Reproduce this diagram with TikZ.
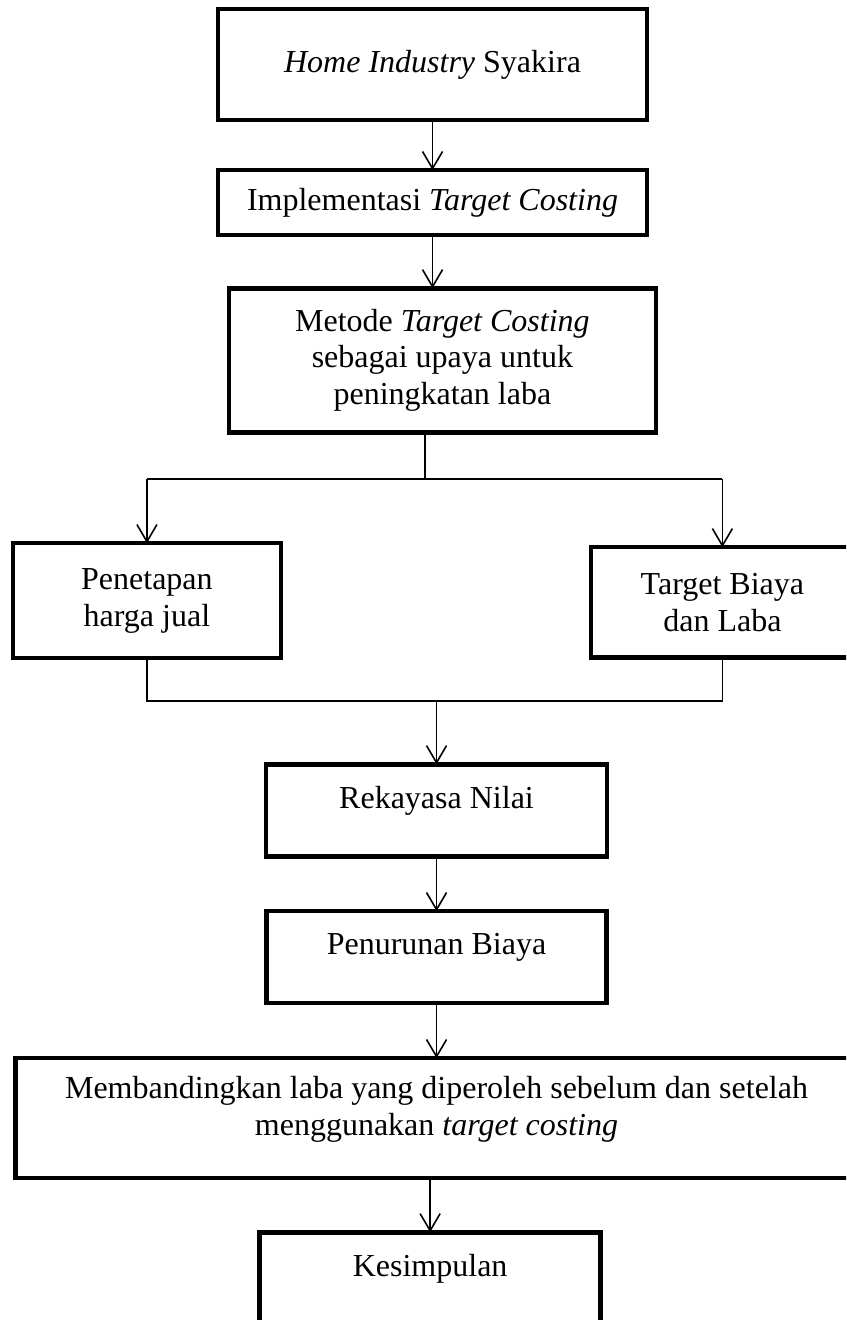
\documentclass[tikz,border=0pt]{standalone}
\usepackage{fontspec}
\setmainfont{Liberation Serif}
\usepackage{tikz}
\usetikzlibrary{arrows.meta,positioning}

\begin{document}
\begin{tikzpicture}[
      node distance=20pt,
      box/.style={rectangle, draw, line width=1.7pt, inner sep=0pt, outer sep=0pt, align=center, font=\fontsize{12}{13.8}\selectfont},
      toptext/.style={text depth=10pt},
      arrow/.style={-{Straight Barb[length=6.4pt,width=7.5pt]}, line width=0.6pt},
      line/.style={line width=0.6pt}
    ]
    \useasboundingbox (-162.2pt,24.2pt) rectangle (155.1pt,-470.8pt);
    \clip (-162.2pt,24.2pt) rectangle (155.1pt,-470.8pt);

    % Main column
    \node[box, minimum width=160.9pt, minimum height=41.6pt] (home) {\textit{Home Industry} Syakira};
    \node[box, minimum width=160.9pt, minimum height=24.4pt, below=18.8pt of home] (impl) {Implementasi \textit{Target Costing}};
    \node[box, minimum width=160.1pt, minimum height=54pt, below=19.9pt of impl, xshift=3.7pt] (metode) {Metode \textit{Target Costing}\\sebagai upaya untuk\\peningkatan laba};

    % Two branches
    \node[box, minimum width=100.5pt, minimum height=43.1pt, below=41.6pt of metode, xshift=-110.8pt] (penetapan) {Penetapan\\harga jual};
    \node[box, minimum width=98.6pt, minimum height=41.3pt, below=43.1pt of metode, xshift=105pt] (target) {Target Biaya\\dan Laba};

    \node[box, toptext, minimum width=127.9pt, minimum height=34.5pt, below=124.5pt of metode, xshift=-2.2pt] (rekayasa) {Rekayasa Nilai};
    \node[box, toptext, minimum width=127.5pt, minimum height=34.5pt, below=20.6pt of rekayasa] (penurunan) {Penurunan Biaya};
    \node[box, text depth=9pt, minimum width=315.8pt, minimum height=45pt, below=20.6pt of penurunan] (banding) {Membandingkan laba yang diperoleh sebelum dan setelah\\menggunakan \textit{target costing}};
    \node[box, toptext, minimum width=127.9pt, minimum height=34.9pt, below=20.3pt of banding, xshift=-2.4pt] (kesimpulan) {Kesimpulan};

    % Fork and join points
    \coordinate[below=17.6pt of metode.south, xshift=-6.5pt] (fork);
    \coordinate[below=16.1pt of penetapan.south] (join);

    % Connectors
    \draw[arrow] (home) -- (impl);
    \draw[arrow] (impl) -- (impl |- metode.north);
    \draw[line] (fork |- metode.south) -- (fork);
    \draw[line] (fork -| penetapan) -- (fork -| target);
    \draw[arrow] (fork -| penetapan) -- (penetapan);
    \draw[arrow] (fork -| target) -- (target);
    \draw[line] (penetapan) -- (join) -- (join -| target) -- (target);
    \draw[arrow] (join -| rekayasa) -- (rekayasa);
    \draw[arrow] (rekayasa) -- (penurunan);
    \draw[arrow] (penurunan) -- (penurunan |- banding.north);
    \draw[arrow] (kesimpulan |- banding.south) -- (kesimpulan);
\end{tikzpicture}
\end{document}
